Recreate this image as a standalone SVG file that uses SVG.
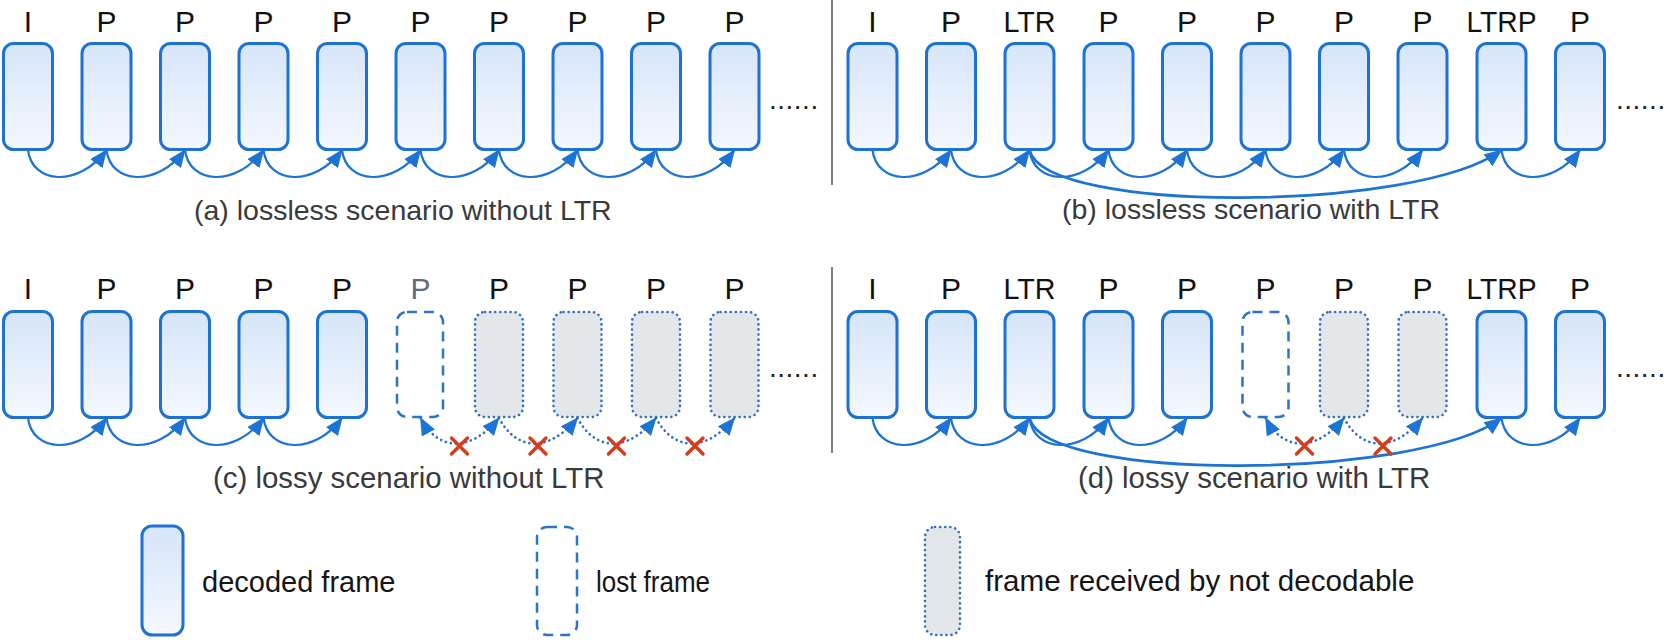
<svg xmlns="http://www.w3.org/2000/svg" width="1664" height="640" viewBox="0 0 1664 640">
<defs>
<linearGradient id="g" x1="0" y1="0" x2="0" y2="1">
<stop offset="0" stop-color="#d6e5f9"/>
<stop offset="1" stop-color="#f4f8fe"/>
</linearGradient>
<marker id="ah" markerUnits="userSpaceOnUse" markerWidth="19" markerHeight="15" refX="17" refY="7.5" orient="auto-start-reverse">
<path d="M0,0 L18,7.5 L0,15 z" fill="#1e74d4"/>
</marker>
<style>
.f{fill:url(#g);stroke:#1d72d3;stroke-width:3}
.lost{fill:#fff;stroke:#2a74c9;stroke-width:2.5;stroke-dasharray:10 7}
.nd{fill:#e4e7ea;stroke:#2f70c0;stroke-width:2.6;stroke-dasharray:0.1 5;stroke-linecap:round}
.lbl{font-family:"Liberation Sans",Arial,sans-serif;font-size:30px;fill:#111;text-anchor:middle}
.lg{fill:#5b6b80}
.cap{font-family:"Liberation Sans",Arial,sans-serif;font-size:28.5px;fill:#3a3a3a}
.cap2{font-size:29.4px}
.leg{font-family:"Liberation Sans",Arial,sans-serif;font-size:29px;fill:#151515}
.ell{font-family:"Liberation Sans",Arial,sans-serif;font-size:28px;fill:#222;letter-spacing:0.5px}
.arr{fill:none;stroke:#1e74d4;stroke-width:2.2;marker-end:url(#ah)}
.long{stroke-width:2.8}
.dot{fill:none;stroke:#2a6fc4;stroke-width:2.6;stroke-dasharray:0.1 5;stroke-linecap:round;marker-end:url(#ah)}
.x{stroke:#d43c1c;stroke-width:3.5;stroke-linecap:round}
.div{stroke:#555;stroke-width:1.5}
</style>
</defs>
<rect width="1664" height="640" fill="#fff"/>

<line class="div" x1="832" y1="0" x2="832" y2="185"/>
<line class="div" x1="832" y1="267" x2="832" y2="453"/>

<!-- Panel a -->
<g id="a0"><rect class="f" x="3.5" y="43.5" width="49" height="106" rx="10"/><text class="lbl" x="28" y="32">I</text></g>
<g id="a1"><rect class="f" x="82" y="43.5" width="49" height="106" rx="10"/><text class="lbl" x="106.5" y="32">P</text></g>
<g id="a2"><rect class="f" x="160.5" y="43.5" width="49" height="106" rx="10"/><text class="lbl" x="185" y="32">P</text></g>
<g id="a3"><rect class="f" x="239" y="43.5" width="49" height="106" rx="10"/><text class="lbl" x="263.5" y="32">P</text></g>
<g id="a4"><rect class="f" x="317.5" y="43.5" width="49" height="106" rx="10"/><text class="lbl" x="342" y="32">P</text></g>
<g id="a5"><rect class="f" x="396" y="43.5" width="49" height="106" rx="10"/><text class="lbl" x="420.5" y="32">P</text></g>
<g id="a6"><rect class="f" x="474.5" y="43.5" width="49" height="106" rx="10"/><text class="lbl" x="499" y="32">P</text></g>
<g id="a7"><rect class="f" x="553" y="43.5" width="49" height="106" rx="10"/><text class="lbl" x="577.5" y="32">P</text></g>
<g id="a8"><rect class="f" x="631.5" y="43.5" width="49" height="106" rx="10"/><text class="lbl" x="656" y="32">P</text></g>
<g id="a9"><rect class="f" x="710" y="43.5" width="49" height="106" rx="10"/><text class="lbl" x="734.5" y="32">P</text></g>
<text class="ell" x="769" y="109">......</text>
<text class="cap" x="194" y="220">(a) lossless scenario without LTR</text>

<!-- Panel b -->
<g id="b0"><rect class="f" x="848" y="43.5" width="49" height="106" rx="10"/><text class="lbl" x="872.5" y="32">I</text></g>
<g id="b1"><rect class="f" x="926.5" y="43.5" width="49" height="106" rx="10"/><text class="lbl" x="951" y="32">P</text></g>
<g id="b2"><rect class="f" x="1005" y="43.5" width="49" height="106" rx="10"/><text class="lbl" x="1029.5" y="32" textLength="52" lengthAdjust="spacingAndGlyphs">LTR</text></g>
<g id="b3"><rect class="f" x="1084" y="43.5" width="49" height="106" rx="10"/><text class="lbl" x="1108.5" y="32">P</text></g>
<g id="b4"><rect class="f" x="1162.5" y="43.5" width="49" height="106" rx="10"/><text class="lbl" x="1187" y="32">P</text></g>
<g id="b5"><rect class="f" x="1241" y="43.5" width="49" height="106" rx="10"/><text class="lbl" x="1265.5" y="32">P</text></g>
<g id="b6"><rect class="f" x="1319.5" y="43.5" width="49" height="106" rx="10"/><text class="lbl" x="1344" y="32">P</text></g>
<g id="b7"><rect class="f" x="1398" y="43.5" width="49" height="106" rx="10"/><text class="lbl" x="1422.5" y="32">P</text></g>
<g id="b8"><rect class="f" x="1477" y="43.5" width="49" height="106" rx="10"/><text class="lbl" x="1501.5" y="32" textLength="70" lengthAdjust="spacingAndGlyphs">LTRP</text></g>
<g id="b9"><rect class="f" x="1555.5" y="43.5" width="49" height="106" rx="10"/><text class="lbl" x="1580" y="32">P</text></g>
<text class="ell" x="1616" y="109">......</text>
<text class="cap" x="1062" y="219">(b) lossless scenario with LTR</text>

<!-- Panel c -->
<g id="c0"><rect class="f" x="3.5" y="311.5" width="49" height="106" rx="10"/><text class="lbl" x="28" y="299">I</text></g>
<g id="c1"><rect class="f" x="82" y="311.5" width="49" height="106" rx="10"/><text class="lbl" x="106.5" y="299">P</text></g>
<g id="c2"><rect class="f" x="160.5" y="311.5" width="49" height="106" rx="10"/><text class="lbl" x="185" y="299">P</text></g>
<g id="c3"><rect class="f" x="239" y="311.5" width="49" height="106" rx="10"/><text class="lbl" x="263.5" y="299">P</text></g>
<g id="c4"><rect class="f" x="317.5" y="311.5" width="49" height="106" rx="10"/><text class="lbl" x="342" y="299">P</text></g>
<g id="c5"><rect class="lost" x="397" y="312" width="46" height="105" rx="10"/><text class="lbl lg" x="420.5" y="299">P</text></g>
<g id="c6"><rect class="nd" x="475" y="312" width="48" height="105" rx="10"/><text class="lbl" x="499" y="299">P</text></g>
<g id="c7"><rect class="nd" x="553.5" y="312" width="48" height="105" rx="10"/><text class="lbl" x="577.5" y="299">P</text></g>
<g id="c8"><rect class="nd" x="632" y="312" width="48" height="105" rx="10"/><text class="lbl" x="656" y="299">P</text></g>
<g id="c9"><rect class="nd" x="710.5" y="312" width="48" height="105" rx="10"/><text class="lbl" x="734.5" y="299">P</text></g>
<text class="ell" x="769" y="377">......</text>
<text class="cap cap2" x="213" y="488">(c) lossy scenario without LTR</text>

<!-- Panel d -->
<g id="d0"><rect class="f" x="848" y="311.5" width="49" height="106" rx="10"/><text class="lbl" x="872.5" y="299">I</text></g>
<g id="d1"><rect class="f" x="926.5" y="311.5" width="49" height="106" rx="10"/><text class="lbl" x="951" y="299">P</text></g>
<g id="d2"><rect class="f" x="1005" y="311.5" width="49" height="106" rx="10"/><text class="lbl" x="1029.5" y="299" textLength="52" lengthAdjust="spacingAndGlyphs">LTR</text></g>
<g id="d3"><rect class="f" x="1084" y="311.5" width="49" height="106" rx="10"/><text class="lbl" x="1108.5" y="299">P</text></g>
<g id="d4"><rect class="f" x="1162.5" y="311.5" width="49" height="106" rx="10"/><text class="lbl" x="1187" y="299">P</text></g>
<g id="d5"><rect class="lost" x="1242.5" y="312" width="46" height="105" rx="10"/><text class="lbl" x="1265.5" y="299">P</text></g>
<g id="d6"><rect class="nd" x="1320" y="312" width="48" height="105" rx="10"/><text class="lbl" x="1344" y="299">P</text></g>
<g id="d7"><rect class="nd" x="1398.5" y="312" width="48" height="105" rx="10"/><text class="lbl" x="1422.5" y="299">P</text></g>
<g id="d8"><rect class="f" x="1477" y="311.5" width="49" height="106" rx="10"/><text class="lbl" x="1501.5" y="299" textLength="70" lengthAdjust="spacingAndGlyphs">LTRP</text></g>
<g id="d9"><rect class="f" x="1555.5" y="311.5" width="49" height="106" rx="10"/><text class="lbl" x="1580" y="299">P</text></g>
<text class="ell" x="1616" y="377">......</text>
<text class="cap cap2" x="1078" y="488">(d) lossy scenario with LTR</text>

<!-- Legend -->
<g id="legend-decoded"><rect class="f" x="142" y="526" width="41" height="109" rx="10"/><text class="leg" x="202" y="592">decoded frame</text></g>
<g id="legend-lost"><rect class="lost" x="537" y="527" width="40" height="108" rx="10"/><text class="leg" x="596" y="592" textLength="114" lengthAdjust="spacingAndGlyphs">lost frame</text></g>
<g id="legend-nd"><rect class="nd" x="925" y="527" width="35" height="108" rx="10"/><text class="leg" x="985" y="591" style="font-size:29.6px">frame received by not decodable</text></g>

<!-- Connectors -->
<g id="connectors">
<path class="arr" d="M28,150 C32,184 78.5,188 106.5,150"/>
<path class="arr" d="M106.5,150 C110.5,184 157,188 185,150"/>
<path class="arr" d="M185,150 C189,184 235.5,188 263.5,150"/>
<path class="arr" d="M263.5,150 C267.5,184 314,188 342,150"/>
<path class="arr" d="M342,150 C346,184 392.5,188 420.5,150"/>
<path class="arr" d="M420.5,150 C424.5,184 471,188 499,150"/>
<path class="arr" d="M499,150 C503,184 549.5,188 577.5,150"/>
<path class="arr" d="M577.5,150 C581.5,184 628,188 656,150"/>
<path class="arr" d="M656,150 C660,184 706.5,188 734.5,150"/>

<path class="arr" d="M872.5,150 C876.5,184 923,188 951,150"/>
<path class="arr" d="M951,150 C955,184 1001.5,188 1029.5,150"/>
<path class="arr" d="M1029.5,150 C1033.5,184 1080.5,188 1108.5,150"/>
<path class="arr" d="M1108.5,150 C1112.5,184 1159,188 1187,150"/>
<path class="arr" d="M1187,150 C1191,184 1237.5,188 1265.5,150"/>
<path class="arr" d="M1265.5,150 C1269.5,184 1316,188 1344,150"/>
<path class="arr" d="M1344,150 C1348,184 1394.5,188 1422.5,150"/>
<path class="arr long" d="M1029.5,150 C1045,215 1420,212 1501.5,150"/>
<path class="arr" d="M1501.5,150 C1505.5,184 1552,188 1580,150"/>

<path class="arr" d="M28,418 C32,452 78.5,456 106.5,418"/>
<path class="arr" d="M106.5,418 C110.5,452 157,456 185,418"/>
<path class="arr" d="M185,418 C189,452 235.5,456 263.5,418"/>
<path class="arr" d="M263.5,418 C267.5,452 314,456 342,418"/>
<path class="dot" style="marker-start:url(#ah)" d="M420.5,418 C438.5,452 471,452 499,418"/>
<path class="dot" d="M499,418 C517,452 549.5,452 577.5,418"/>
<path class="dot" d="M577.5,418 C595.5,452 628,452 656,418"/>
<path class="dot" d="M656,418 C674,452 706.5,452 734.5,418"/>

<path class="arr" d="M872.5,418 C876.5,452 923,456 951,418"/>
<path class="arr" d="M951,418 C955,452 1001.5,456 1029.5,418"/>
<path class="arr" d="M1029.5,418 C1033.5,452 1080.5,456 1108.5,418"/>
<path class="arr" d="M1108.5,418 C1112.5,452 1159,456 1187,418"/>
<path class="arr long" d="M1029.5,418 C1045,483 1420,480 1501.5,418"/>
<path class="arr" d="M1501.5,418 C1505.5,452 1552,456 1580,418"/>
<path class="dot" style="marker-start:url(#ah)" d="M1265.5,418 C1283.5,452 1316,452 1344,418"/>
<path class="dot" d="M1344,418 C1362,452 1394.5,452 1422.5,418"/>

<g class="x">
<path d="M451.5,438 L467.5,454 M467.5,438 L451.5,454"/>
<path d="M530,438 L546,454 M546,438 L530,454"/>
<path d="M608.5,438 L624.5,454 M624.5,438 L608.5,454"/>
<path d="M687,438 L703,454 M703,438 L687,454"/>
<path d="M1296.5,438 L1312.5,454 M1312.5,438 L1296.5,454"/>
<path d="M1375,438 L1391,454 M1391,438 L1375,454"/>
</g>
</g>
</svg>
